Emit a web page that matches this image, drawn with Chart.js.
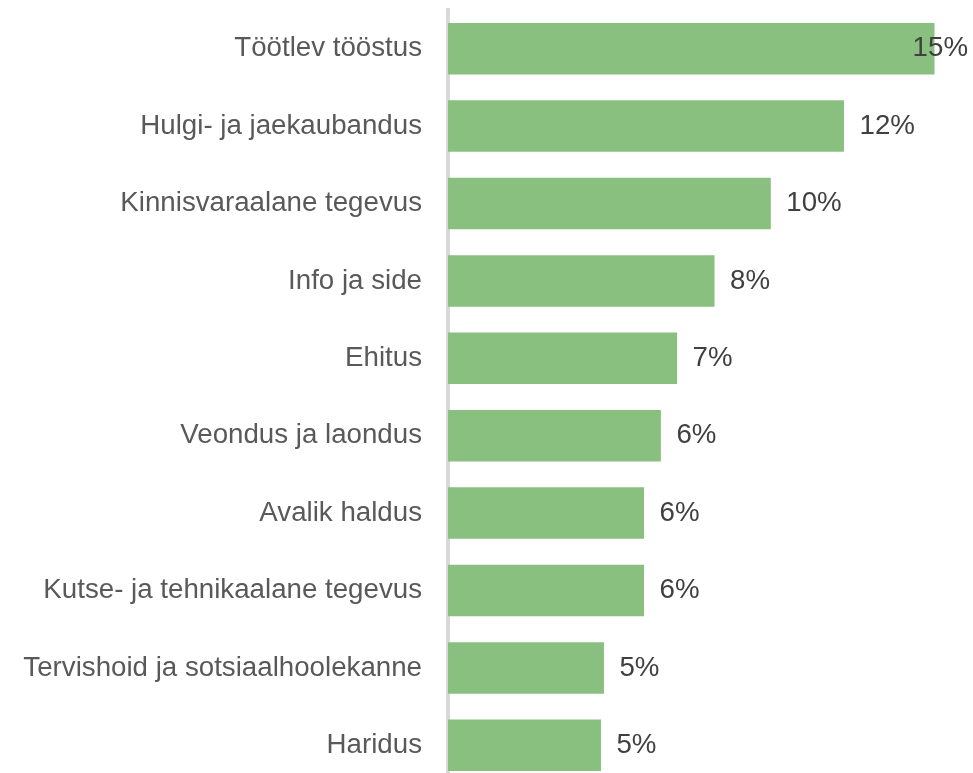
<!DOCTYPE html>
<html>
<head>
<meta charset="utf-8">
<script src="https://cdn.jsdelivr.net/npm/chart.js@4.4.1/dist/chart.umd.min.js"></script>
<style>
  html, body { margin:0; padding:0; background:#fff; overflow:hidden; }
  #wrap { width:973px; height:784px; position:relative; }
</style>
</head>
<body>
<div id="wrap"><canvas id="chart"></canvas></div>
<script>
// sectors, top to bottom
const sectors = [
  "Töötlev tööstus",
  "Hulgi- ja jaekaubandus",
  "Kinnisvaraalane tegevus",
  "Info ja side",
  "Ehitus",
  "Veondus ja laondus",
  "Avalik haldus",
  "Kutse- ja tehnikaalane tegevus",
  "Tervishoid ja sotsiaalhoolekanne",
  "Haridus"
];
// share, %
const shares = [14.7, 11.96, 9.75, 8.05, 6.92, 6.43, 5.92, 5.92, 4.71, 4.62];

const FONT = '"Liberation Sans", Arial, sans-serif';
const FONT_SIZE = 27.7;

// value labels at the end of each bar, kept inside the canvas
const valueLabels = {
  id: "valueLabels",
  afterDatasetsDraw(chart){
    const ctx = chart.ctx;
    const meta = chart.getDatasetMeta(0);
    ctx.save();
    ctx.font = FONT_SIZE + "px " + FONT;
    ctx.fillStyle = "#404040";
    ctx.textAlign = "left";
    ctx.textBaseline = "middle";
    meta.data.forEach((bar, i)=>{
      const txt = Math.round(shares[i]) + "%";
      const w = ctx.measureText(txt).width;
      const x = Math.min(bar.x + 15.5, chart.width - 5 - w);
      ctx.fillText(txt, x, bar.y);
    });
    ctx.restore();
  }
};

new Chart(document.getElementById("chart").getContext("2d"), {
  type: "bar",
  data: {
    labels: sectors,
    datasets: [{
      data: shares,
      backgroundColor: "#89c080",
      borderWidth: 0,
      barPercentage: 0.665,
      categoryPercentage: 1
    }]
  },
  options: {
    indexAxis: "y",
    responsive: true,
    maintainAspectRatio: false,
    animation: false,
    layout: { padding: { top: 10, right: 38.3, bottom: 0, left: 0 } },
    plugins: {
      legend: { display: false },
      tooltip: { enabled: false }
    },
    scales: {
      x: { display: false, min: 0, max: 14.7 },
      y: {
        afterFit(scale){
          scale.width = 448;
          // no extra room above/below for the label halves
          scale.paddingTop = 0;
          scale.paddingBottom = 0;
        },
        grid: { display: false, drawTicks: false },
        border: { display: true, color: "#d9d9d9", width: 4 },
        ticks: {
          color: "#595959",
          padding: 26,
          font: { family: FONT, size: FONT_SIZE }
        }
      }
    }
  },
  plugins: [valueLabels]
});
</script>
</body>
</html>
